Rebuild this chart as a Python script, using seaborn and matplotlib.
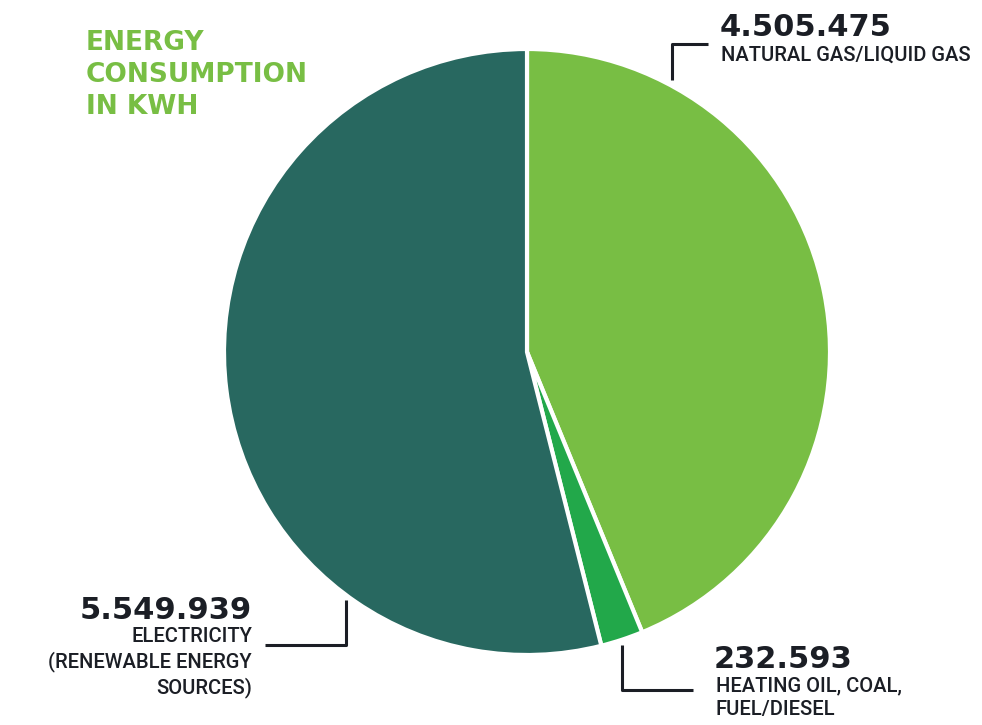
import matplotlib
matplotlib.use("Agg")
import matplotlib.pyplot as plt
import seaborn as sns

# data
sources = ["NATURAL GAS/LIQUID GAS", "HEATING OIL, COAL,\nFUEL/DIESEL", "ELECTRICITY\n(RENEWABLE ENERGY\nSOURCES)"]
kwh = [4505475, 232593, 5549939]
colors = ["#78BE44", "#22A84A", "#286860"]
title = "ENERGY\nCONSUMPTION\nIN KWH"

sns.set_theme(style="white")
plt.rcParams["font.family"] = ["DejaVu Sans"]

W, H = 982, 725
fig = plt.figure(figsize=(W / 100, H / 100), dpi=100)

# pie axes: centre (527, 352), radius 303 px
cx, cy, r = 527, 352, 303
ax = fig.add_axes([(cx - r) / W, (H - cy - r) / H, 2 * r / W, 2 * r / H])
ax.pie(kwh, colors=colors, startangle=90, counterclock=False, radius=1,
       wedgeprops=dict(edgecolor="white", linewidth=3))
ax.set_xlim(-1, 1)
ax.set_ylim(-1, 1)
ax.set_aspect("equal")
ax.axis("off")

# overlay in pixel coords for annotations
ov = fig.add_axes([0, 0, 1, 1], facecolor="none")
ov.set_xlim(0, W)
ov.set_ylim(H, 0)
ov.axis("off")

dark = "#1B1E25"
numfont = dict(fontsize=22, fontweight="heavy", color=dark, family="DejaVu Sans")
labfont = dict(fontsize=14.5, fontweight="medium", color=dark, family=["Roboto", "DejaVu Sans"], linespacing=1.3)


def fmt(v):
    return f"{v:,}".replace(",", ".")


ov.text(86, 30, title, fontsize=19, fontweight="heavy", color="#78BE44",
        va="top", ha="left", linespacing=1.3)

# natural gas
ov.plot([672, 672, 708], [80, 44, 44], color=dark, lw=2.2, solid_capstyle="butt")
ov.text(720, 36, fmt(kwh[0]), ha="left", va="baseline", **numfont)
ov.text(721, 46, sources[0], ha="left", va="top", **labfont)

# heating oil
ov.plot([622, 622, 693], [645, 690, 690], color=dark, lw=2.2, solid_capstyle="butt")
ov.text(714, 668, fmt(kwh[1]), ha="left", va="baseline", **numfont)
ov.text(716, 676, sources[1], ha="left", va="top", **labfont)

# electricity
ov.plot([346, 346, 265], [600, 645, 645], color=dark, lw=2.2, solid_capstyle="butt")
ov.text(252, 619, fmt(kwh[2]), ha="right", va="baseline", **numfont)
ov.text(252, 627, sources[2], ha="right", va="top", multialignment="right", **labfont)

fig.savefig("out.png", dpi=100)
